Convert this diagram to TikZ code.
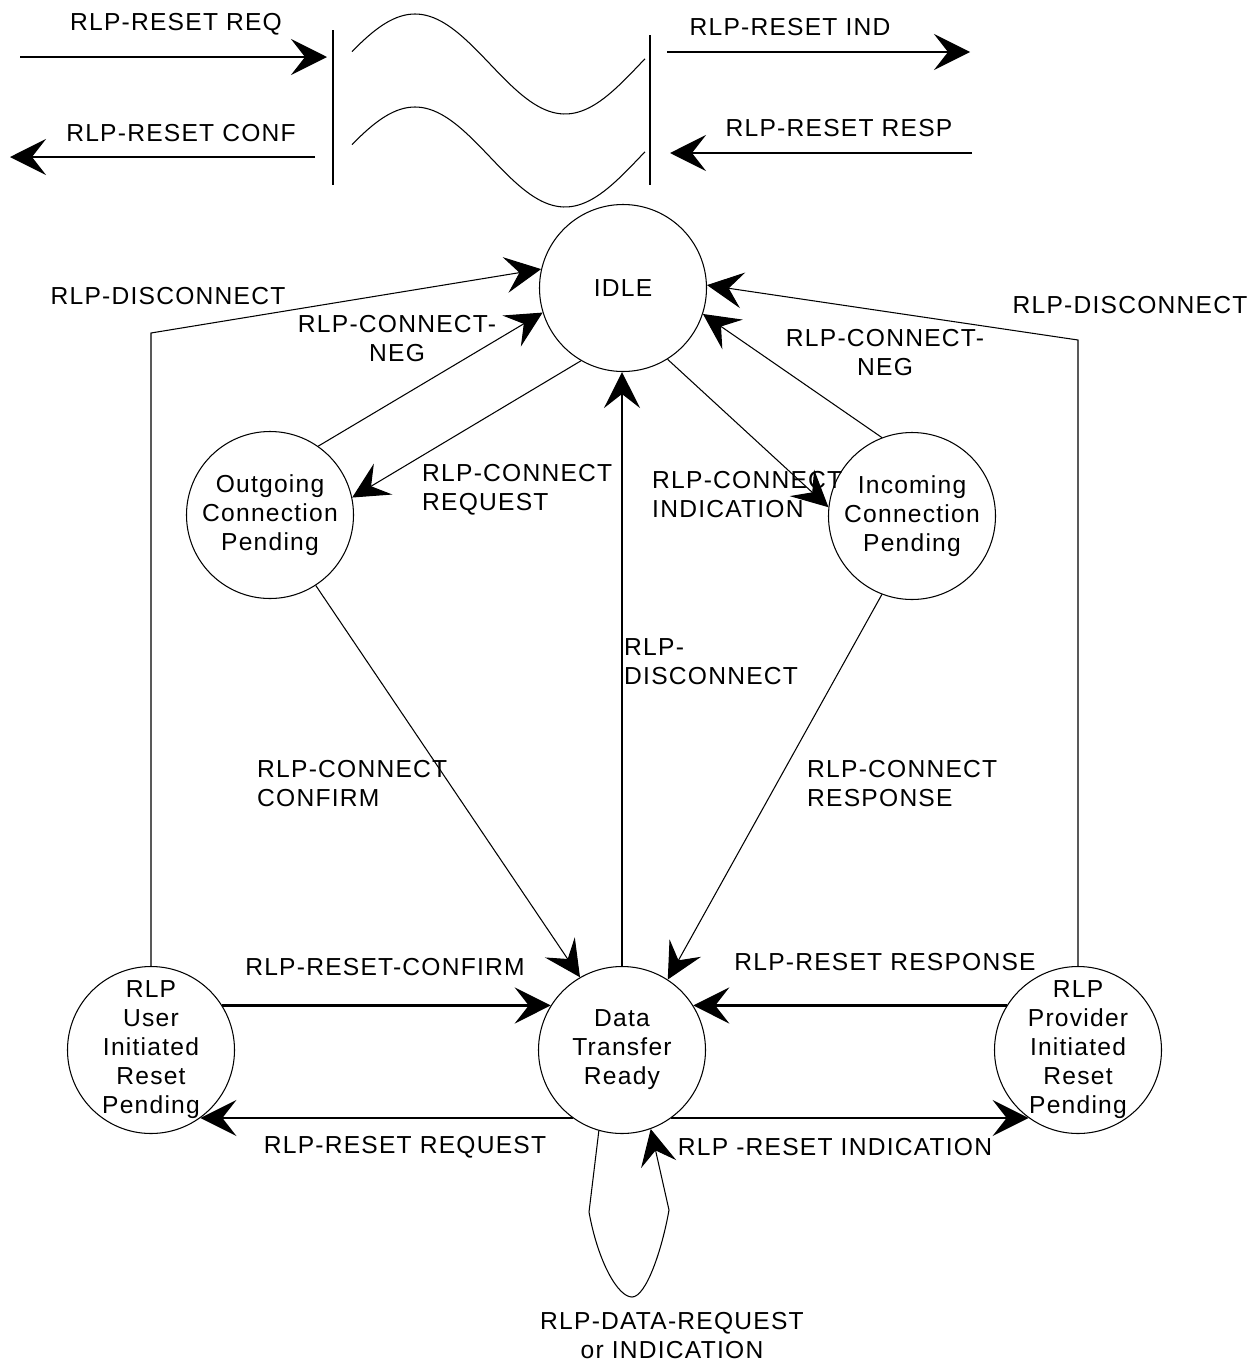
\documentclass[tikz,border=0pt]{standalone}
\usepackage{fontspec}
\setmainfont{Liberation Sans}[LetterSpace=5]
\usetikzlibrary{positioning, arrows.meta}
\tikzset{every node/.append style={execute at begin node={\hyphenpenalty=10000\exhyphenpenalty=10000\relax}}}

\begin{document}
\begin{tikzpicture}[x=0.2mm,y=-0.2mm,font=\fontsize{14}{16.5}\selectfont,
  >={Stealth[length=7.2mm,width=7.2mm,inset=2.8mm]},
  state/.style={draw,circle,minimum size=3.34cm,inner sep=0pt,line width=0.6pt},
  flowline/.style={->,line width=0.6pt},
  midline/.style={->,line width=1pt},
  boldline/.style={->,line width=1.5pt}]
  \useasboundingbox (0,0) rectangle (1248,1364);
  % reset primitives across the link
  \coordinate (reqA) at (20,57);   \coordinate (reqB) at (327,57);
  \coordinate (confA) at (315,157); \coordinate (confB) at (10,157);
  \coordinate (indA) at (667,52);  \coordinate (indB) at (970,52);
  \coordinate (respA) at (972,153); \coordinate (respB) at (670,153);
  \draw[boldline] (reqA) -- (reqB);
  \draw[boldline] (confA) -- (confB);
  \draw[boldline] (indA) -- (indB);
  \draw[boldline] (respA) -- (respB);
  \node (req) at (176,24) {RLP-RESET REQ};
  \node (conf) at (181,133) {RLP-RESET CONF};
  \node (ind) at (790,27) {RLP-RESET IND};
  \node (resp) at (839,128) {RLP-RESET RESP};
  \draw[line width=0.6pt] (333,30) -- (333,185) (650,35) -- (650,185);
  \foreach \dy in {0,93} \draw[line width=0.6pt] plot[domain=352:645,samples=80] (\x,{\dy+64-50*cos(1.2*(\x-415))});

  % states
  \node[state] (idle) at (623,288) {IDLE};
  \node[state,align=center] (outg) at (270,515) {Outgoing\\Connection\\Pending};
  \node[state,align=center] (inc) at (912,516) {Incoming\\Connection\\Pending};
  \node[state,align=center] (dtr) at (622,1050) {Data\\Transfer\\Ready};
  \node[state] (user) at (151,1050) {};
  \node[align=center] (usertext) at (user) {RLP\\User\\Initiated\\Reset\\Pending};
  \node[state] (prov) at (1078,1050) {};
  \node[align=center] (provtext) at (prov) {RLP\\Provider\\Initiated\\Reset\\Pending};

  % transitions
  \coordinate (discL) at (151,333);
  \coordinate (discR) at (1078,340);
  \draw[flowline] (user.north) -- (discL) -- (idle.167);
  \draw[flowline] (prov.north) -- (discR) -- (idle.2);
  \draw[flowline] (outg.55) -- (idle.197);
  \draw[flowline] (idle.240) -- (outg.12);
  \draw[flowline] (idle.302) -- (inc.174);
  \draw[flowline] (inc.111) -- (idle.342);
  \draw[midline] (dtr.north) -- (dtr.north |- idle.south);
  \draw[flowline] (outg.303) -- (dtr.120);
  \draw[flowline] (inc.249) -- (dtr.57);
  \draw[boldline] (user.32) -- (dtr.148);
  \draw[boldline] (prov.148) -- (dtr.32);
  \draw[boldline] (dtr.234) -- (user.306);
  \draw[boldline] (dtr.306) -- (prov.234);
  \coordinate (loopL) at (589,1212);
  \coordinate (loopB) at (632,1297);
  \coordinate (loopR) at (669,1210);
  \draw[flowline] (dtr.254) -- (loopL) .. controls (598,1262) and (618,1297) .. (loopB)
    .. controls (646,1297) and (662,1250) .. (loopR) -- (dtr.290);

  % labels
  \node (discLtext) at (168,296) {RLP-DISCONNECT};
  \node (discRtext) at (1130,305) {RLP-DISCONNECT};
  \node[align=center] (negL) at (397,339) {RLP-CONNECT-\\NEG};
  \node[align=center] (negR) at (885,353) {RLP-CONNECT-\\NEG};
  \node[align=left,anchor=west] (creq) at (416,490) {RLP-CONNECT\\REQUEST};
  \node[align=left,anchor=west] (cind) at (646,495) {RLP-CONNECT\\INDICATION};
  \node[align=left,anchor=west] (ddisc) at (618,662) {RLP-\\DISCONNECT};
  \node[align=left,anchor=west] (cconf) at (251,784) {RLP-CONNECT\\CONFIRM};
  \node[align=left,anchor=west] (cresp) at (801,784) {RLP-CONNECT\\RESPONSE};
  \node (rconf) at (385,967) {RLP-RESET-CONFIRM};
  \node (rresp) at (885,962) {RLP-RESET RESPONSE};
  \node (rreq) at (405,1147) {RLP-RESET REQUEST};
  \node (rind) at (835,1147) {RLP -RESET INDICATION};
  \node[align=center] (data) at (672,1336) {RLP-DATA-REQUEST\\or INDICATION};
\end{tikzpicture}
\end{document}
